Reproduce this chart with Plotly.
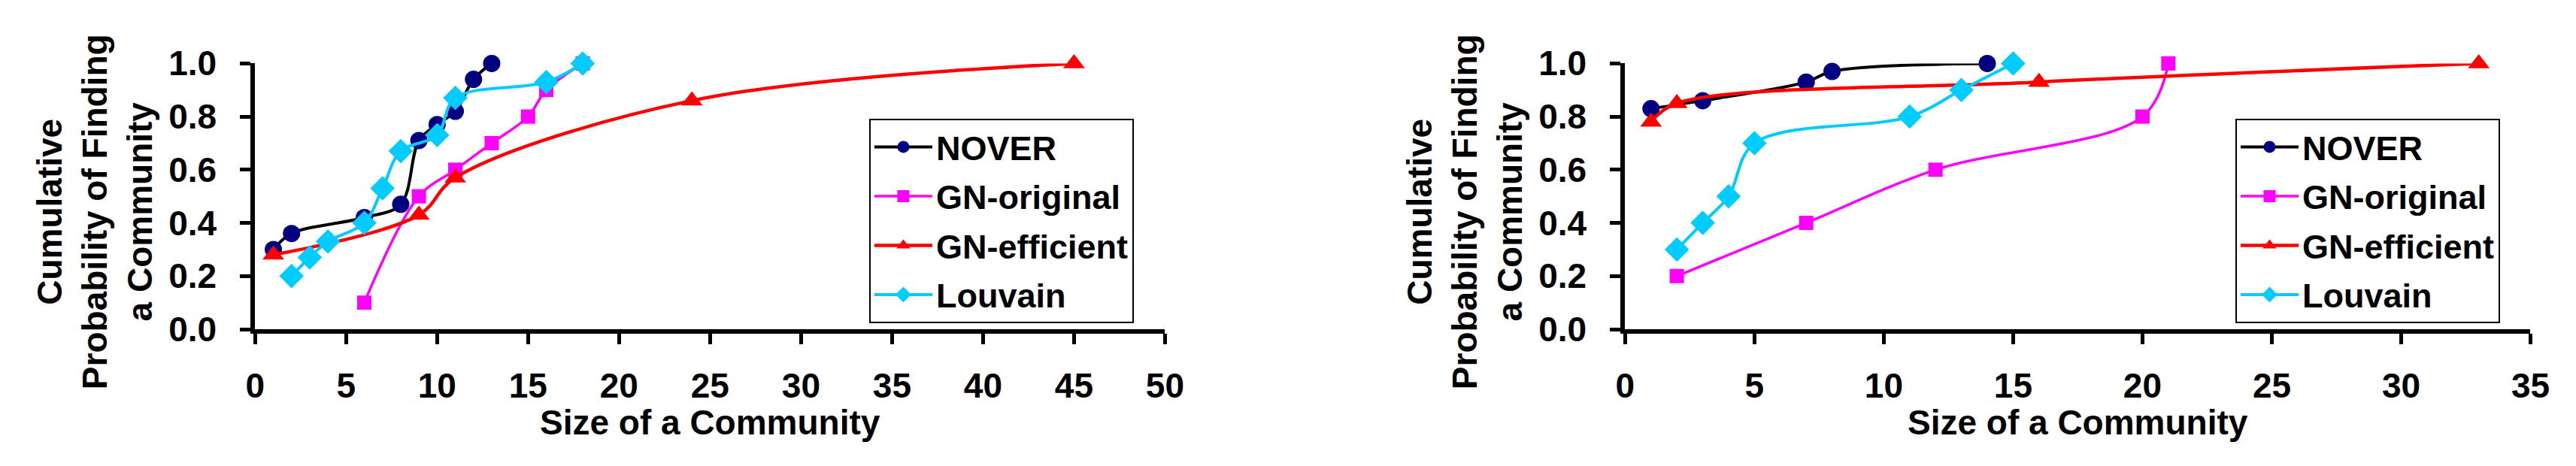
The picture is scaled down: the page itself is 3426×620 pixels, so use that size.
import plotly.graph_objects as go

# left panel
left_nover_x = [1, 2, 6, 8, 9, 10, 11, 12, 13]
left_nover_y = [0.30, 0.36, 0.42, 0.47, 0.71, 0.77, 0.82, 0.94, 1.0]
left_gnorig_x = [6, 9, 11, 13, 15, 16, 18]
left_gnorig_y = [0.1, 0.5, 0.6, 0.7, 0.8, 0.9, 1.0]
left_gneff_x = [1, 9, 11, 24, 45]
left_gneff_y = [0.28, 0.43, 0.57, 0.86, 1.0]
left_louvain_x = [2, 3, 4, 6, 7, 8, 10, 11, 16, 18]
left_louvain_y = [0.2, 0.27, 0.33, 0.4, 0.53, 0.67, 0.73, 0.87, 0.93, 1.0]

# right panel
right_nover_x = [1, 3, 7, 8, 14]
right_nover_y = [0.83, 0.86, 0.93, 0.97, 1.0]
right_gnorig_x = [2, 7, 12, 20, 21]
right_gnorig_y = [0.2, 0.4, 0.6, 0.8, 1.0]
right_gneff_x = [1, 2, 16, 33]
right_gneff_y = [0.78, 0.85, 0.93, 1.0]
right_louvain_x = [2, 3, 4, 5, 11, 13, 15]
right_louvain_y = [0.3, 0.4, 0.5, 0.7, 0.8, 0.9, 1.0]

series_names = ["NOVER", "GN-original", "GN-efficient", "Louvain"]
x_ranges = [50, 35]
x_title = "Size of a Community"
y_title = "Cumulative<br>Probability of Finding<br>a Community"

FONT = "Arial, 'Liberation Sans', sans-serif"
STYLES = {
    "NOVER": dict(line=dict(color="black", width=4), marker=dict(color="#000080", size=23, symbol="circle")),
    "GN-original": dict(line=dict(color="#FF00FF", width=3.5), marker=dict(color="#FF00FF", size=19, symbol="square")),
    "GN-efficient": dict(line=dict(color="#FF0000", width=4.5), marker=dict(color="#FF0000", size=25, symbol="triangle-up")),
    "Louvain": dict(line=dict(color="#00CCFF", width=4), marker=dict(color="#00CCFF", size=25, symbol="diamond")),
}

panels = [
    [(left_nover_x, left_nover_y), (left_gnorig_x, left_gnorig_y),
     (left_gneff_x, left_gneff_y), (left_louvain_x, left_louvain_y)],
    [(right_nover_x, right_nover_y), (right_gnorig_x, right_gnorig_y),
     (right_gneff_x, right_gneff_y), (right_louvain_x, right_louvain_y)],
]

W, H = 3426, 620
x_domains = [(322 / W, 1546 / W), (2165 / W, 3383 / W)]
y_domain = ((H - 441) / H, (H - 55) / H)
legend_left = [1148 / W, 2986 / W]

fig = go.Figure()
for p, series in enumerate(panels):
    suffix = "" if p == 0 else str(p + 1)
    for name, (xs, ys) in zip(series_names, series):
        st = STYLES[name]
        fig.add_trace(
            go.Scatter(
                x=xs,
                y=ys,
                name=name,
                mode="lines+markers",
                line=dict(color=st["line"]["color"], width=st["line"]["width"],
                          shape="spline", smoothing=1.0),
                marker=st["marker"],
                cliponaxis=False,
                xaxis="x" + suffix,
                yaxis="y" + suffix,
                legend="legend" + suffix,
                legendgroup=name + suffix,
            )
        )

axis_common = dict(
    showline=True,
    linecolor="black",
    linewidth=6,
    ticks="outside",
    ticklen=14,
    tickwidth=5,
    tickcolor="black",
    showgrid=False,
    zeroline=False,
    tickfont=dict(family=FONT, size=46, color="black", weight="bold"),
)

legend_common = dict(
    yanchor="top",
    xanchor="left",
    y=(H - 135) / H,
    bgcolor="white",
    bordercolor="black",
    borderwidth=2,
    font=dict(family=FONT, size=45, color="black", weight="bold"),
    itemwidth=77,
    tracegroupgap=4,
)

layout = dict(
    width=W,
    height=H,
    autosize=False,
    margin=dict(l=0, r=0, t=0, b=0),
    paper_bgcolor="white",
    plot_bgcolor="white",
    font=dict(family=FONT, color="black"),
)
for p in range(2):
    suffix = "" if p == 0 else str(p + 1)
    layout["xaxis" + suffix] = dict(
        axis_common, domain=x_domains[p], range=[0, x_ranges[p]], dtick=5,
        anchor="y" + suffix, ticklabelstandoff=16,
    )
    layout["yaxis" + suffix] = dict(
        axis_common, domain=y_domain, range=[0, 1], dtick=0.2, tickformat=".1f",
        anchor="x" + suffix, ticklabelstandoff=22,
    )
    layout["legend" + suffix] = dict(legend_common, x=legend_left[p])

fig.update_layout(**layout)

annotations = []
for p in range(2):
    x0, x1 = x_domains[p]
    annotations.append(dict(
        text=f"<b>{x_title}</b>", xref="paper", yref="paper",
        x=(x0 + x1) / 2, y=(H - 576) / H, xanchor="center", yanchor="middle",
        showarrow=False, font=dict(family=FONT, size=46, color="black"),
    ))
    annotations.append(dict(
        text=f"<b>{y_title}</b>", xref="paper", yref="paper",
        x=x0 - 215 / W, y=(H - 270) / H, xanchor="center", yanchor="middle",
        textangle=-90, showarrow=False,
        font=dict(family=FONT, size=46, color="black"),
    ))
fig.update_layout(annotations=annotations)

fig.write_html("out.html")
